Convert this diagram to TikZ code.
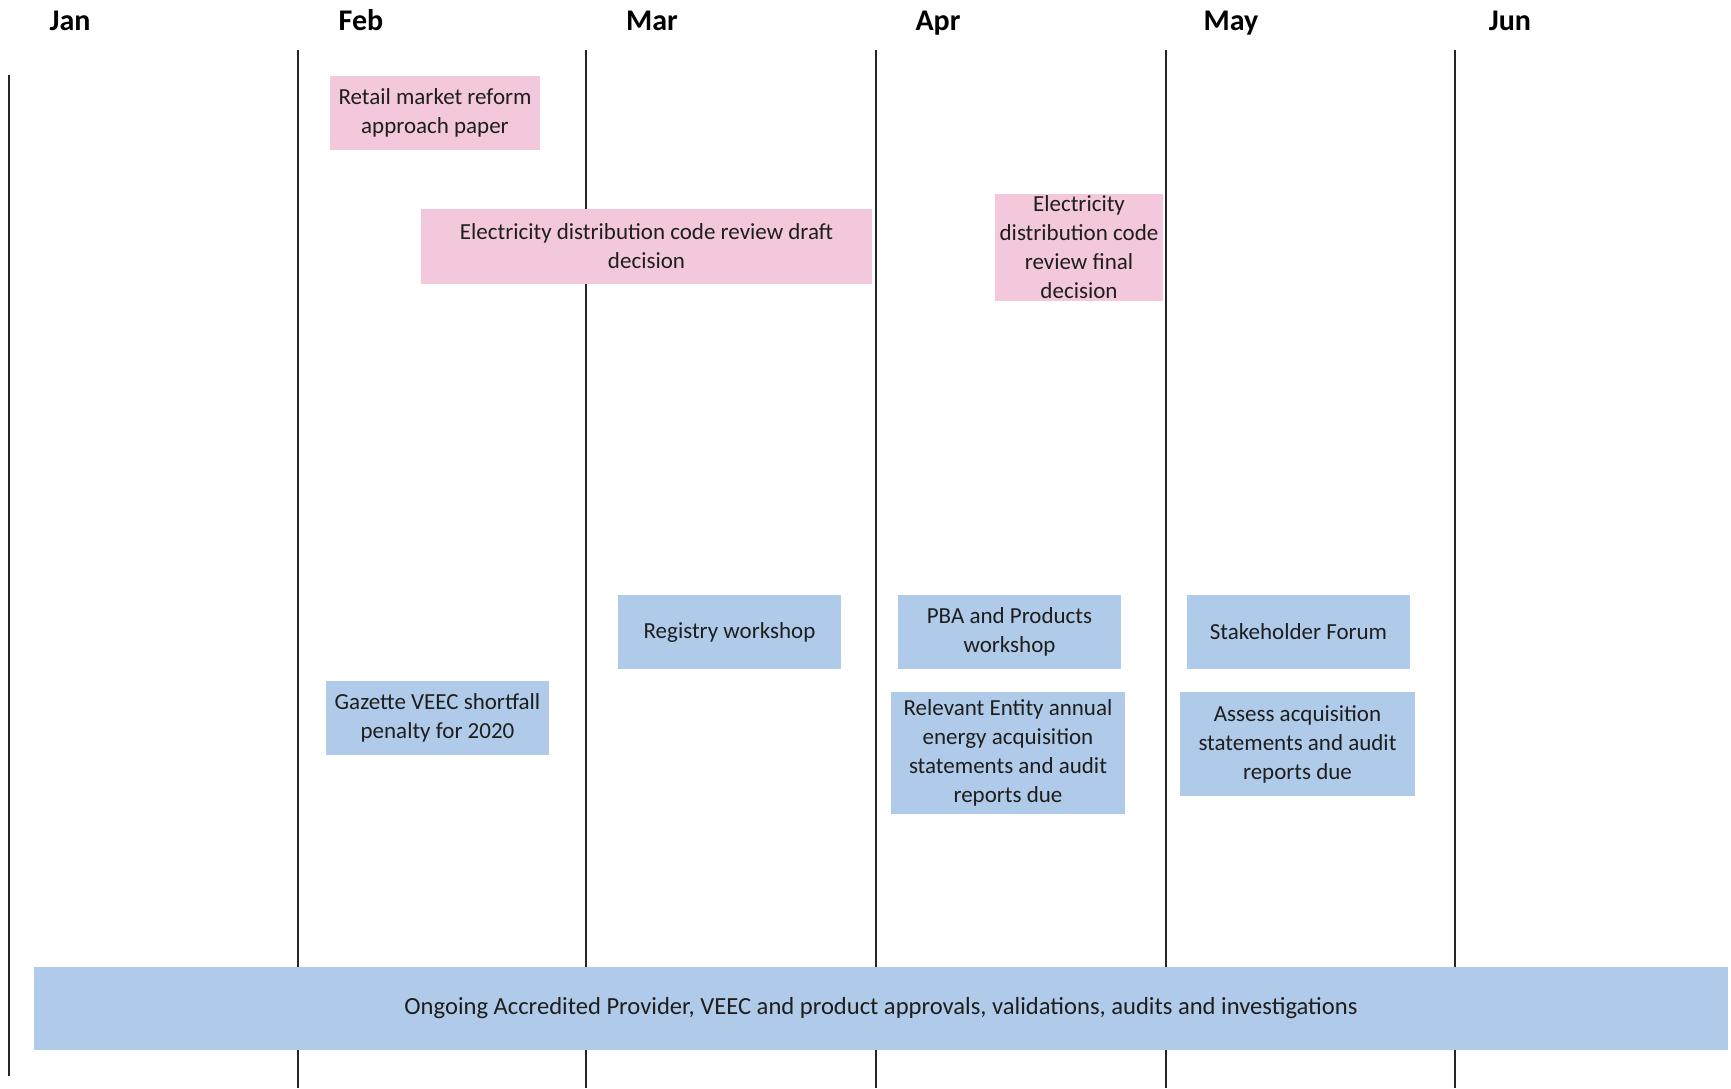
\documentclass[tikz,border=0pt]{standalone}
\usepackage{fontspec}
\setmainfont{Carlito}
\definecolor{pinkfill}{RGB}{243,200,220}
\definecolor{bluefill}{RGB}{175,203,233}
\definecolor{inktext}{RGB}{30,30,30}
\begin{document}
\begin{tikzpicture}[x=0.5pt,y=-0.5pt,
  event/.style={inner sep=0pt,align=center,text=inktext,font=\fontsize{11.5}{14.5}\selectfont},
  pinkbox/.style={event,fill=pinkfill},
  bluebox/.style={event,fill=bluefill},
  month/.style={anchor=base,text=black,font=\fontsize{15}{18}\selectfont\bfseries}]
\useasboundingbox (0,0) rectangle (1731,1088);
% month lines and labels
\draw[line width=0.75pt,black!85] (9,75) -- (9,1076);
\foreach\x in {298,586,876,1166,1455} {
  \draw[line width=0.75pt,black!85] (\x,50) -- (\x,1088);
}
\foreach\m/\x in {Jan/70,Feb/361,Mar/652,Apr/938,May/1231,Jun/1510} {
  \node[month] (m-\m) at (\x,30) {\m};
}
% pink events
\node[pinkbox,minimum width=105pt,minimum height=37pt] (retail) at (435,113) {Retail market reform\\approach paper};
\node[pinkbox,minimum width=225.5pt,minimum height=37.5pt] (draftdec) at (646.5,246) {Electricity distribution code review draft\\decision};
\node[pinkbox,minimum width=84pt,minimum height=53.5pt] (finaldec) at (1079,247) {Electricity\\distribution code\\review final\\decision};
% blue events
\node[bluebox,minimum width=111.5pt,minimum height=37pt] (registry) at (729.5,632) {Registry workshop};
\node[bluebox,minimum width=111.5pt,minimum height=37pt] (pba) at (1009.5,632) {PBA and Products\\workshop};
\node[bluebox,minimum width=111.5pt,minimum height=37pt] (forum) at (1298.5,632) {Stakeholder Forum};
\node[bluebox,minimum width=111.5pt,minimum height=37pt] (gazette) at (437.5,718) {Gazette VEEC shortfall\\penalty for 2020};
\node[bluebox,minimum width=117pt,minimum height=61pt] (entity) at (1008,753) {Relevant Entity annual\\energy acquisition\\statements and audit\\reports due};
\node[bluebox,minimum width=117.5pt,minimum height=52pt] (assess) at (1297.5,744) {Assess acquisition\\statements and audit\\reports due};
\node[bluebox,minimum width=847pt,minimum height=41.5pt,font=\fontsize{12.3}{15}\selectfont] (ongoing) at (881,1008) {Ongoing Accredited Provider, VEEC and product approvals, validations, audits and investigations};
\end{tikzpicture}
\end{document}
